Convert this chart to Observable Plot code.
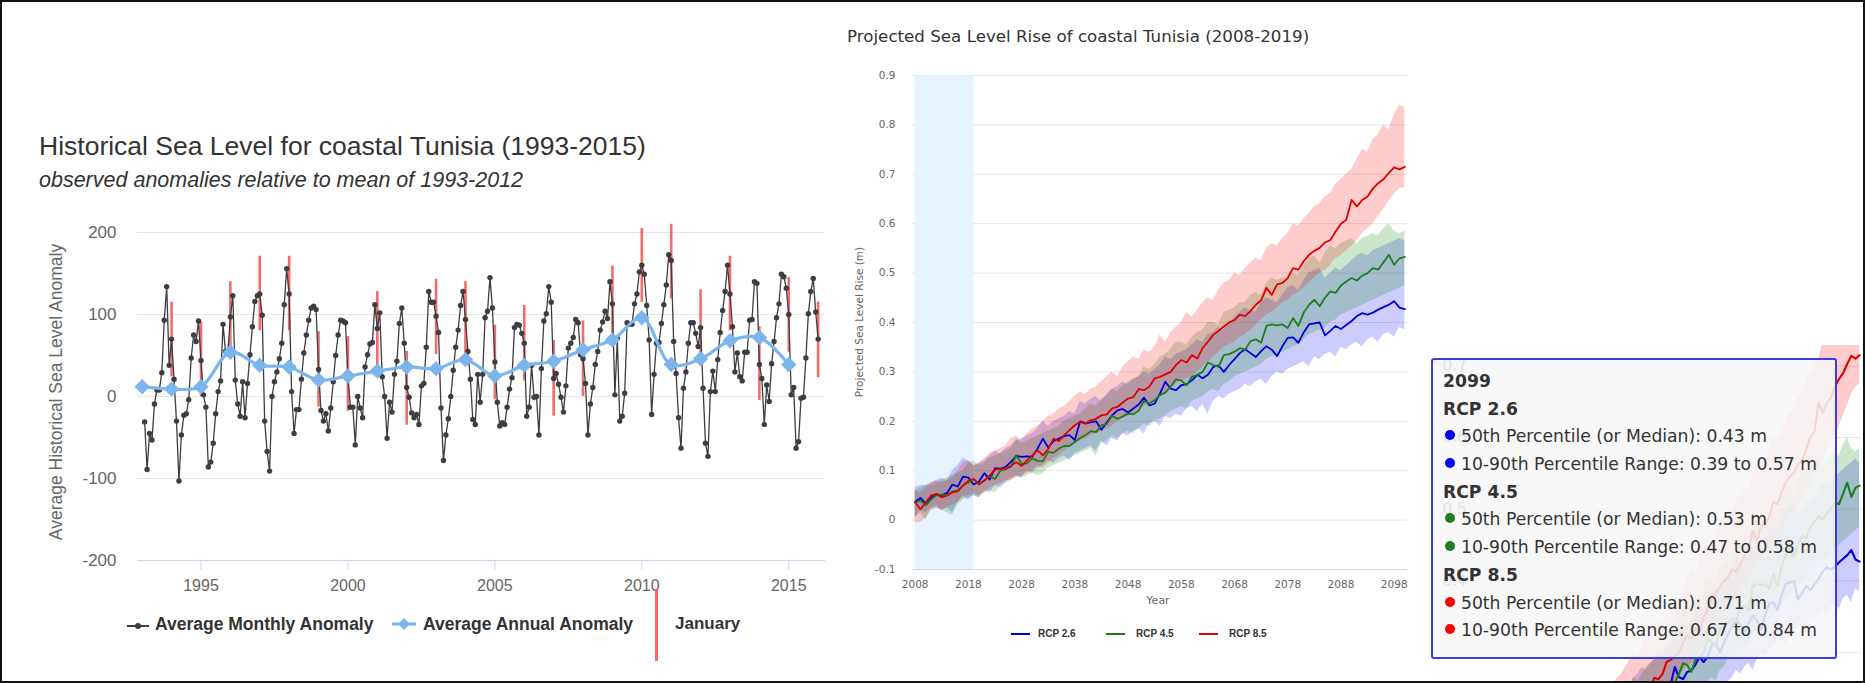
<!DOCTYPE html>
<html>
<head>
<meta charset="utf-8">
<script src="https://cdn.jsdelivr.net/npm/d3@7"></script>
<script src="https://cdn.jsdelivr.net/npm/@observablehq/plot@0.6"></script>
<style>
html,body{margin:0;padding:0;background:#fff;}
#root{position:relative;width:1865px;height:683px;overflow:hidden;background:#fff;font-family:"Liberation Sans",Arial,sans-serif;color:#333;}
.a{position:absolute;white-space:nowrap;}
.tl{height:27.7px;line-height:27.7px;white-space:nowrap;}
.dot{display:inline-block;width:10px;height:10px;border-radius:50%;margin:0 6px 0 2px;vertical-align:middle;position:relative;top:-2px;}
</style>
</head>
<body>
<div id="root"></div>
<script>
// ================= DATA: Historical sea level (left) =================
const leftTitle = "Historical Sea Level for coastal Tunisia (1993-2015)";
const leftSubtitle = "observed anomalies relative to mean of 1993-2012";
const leftYLabel = "Average Historical Sea Level Anomaly";
const leftYTicks = [-200, -100, 0, 100, 200];
const leftXTicks = [1995, 2000, 2005, 2010, 2015];
const monthlyStart = [1993, 2]; // first plotted month (year, month)
const monthlyAnomaly = [
  /*1993*/ -31,-89,-45,-53,-9,8,8,29,93,134,38,
  /*1994*/ 70,21,-30,-103,-47,-23,-21,-4,47,75,67,92,
  /*1995*/ 44,2,-13,-86,-80,-57,-21,6,19,88,55,55,
  /*1996*/ 97,123,20,-9,-24,18,-26,16,51,85,116,123,
  /*1997*/ 125,99,-30,-67,-91,0,18,30,46,65,112,156,
  /*1998*/ 125,6,-45,-16,-16,21,53,75,93,108,110,106,
  /*1999*/ 33,-17,-30,-21,-42,-14,18,50,75,93,92,90,
  /*2000*/ 24,-13,-13,-59,0,-14,-26,36,51,64,66,112,
  /*2001*/ 83,102,24,0,-51,-7,-19,27,43,89,108,65,
  /*2002*/ 11,-1,-20,-26,-22,-34,13,16,60,128,115,115,
  /*2003*/ 98,78,-14,-78,-47,-27,0,32,60,81,111,128,
  /*2004*/ 94,55,21,-28,-34,27,-7,27,96,104,145,108,
  /*2005*/ 42,-7,-36,-32,-34,-13,9,23,84,88,87,77,
  /*2006*/ 65,-24,-13,38,-1,0,-47,34,92,101,134,115,
  /*2007*/ 22,28,15,-1,-19,13,59,65,72,94,90,51,
  /*2008*/ 46,16,-47,-9,11,39,55,81,91,104,95,140,
  /*2009*/ 113,2,71,-30,-24,4,90,88,88,113,125,152,
  /*2010*/ 160,149,111,69,-22,27,65,66,89,112,136,173,
  /*2011*/ 166,67,28,-26,-63,10,30,65,90,90,77,61,
  /*2012*/ 84,10,-57,-73,6,31,6,45,78,105,128,160,
  /*2013*/ 125,85,30,53,24,19,54,54,93,94,140,138,
  /*2014*/ 39,22,-34,14,-6,40,67,96,113,149,146,132,
  /*2015*/ 100,2,11,-63,-55,-2,-1,47,101,128,144,103,
  /*2016*/ 70
];
const annualYears = [1993,1994,1995,1996,1997,1998,1999,2000,2001,2002,2003,2004,2005,2006,2007,2008,2009,2010,2011,2012,2013,2014,2015];
const annualAnomaly = [12,9,12,54,38,36,20,25,31,36,34,45,25,38,43,57,69,96,39,46,68,72,39];
const januaryYears = [1994,1995,1996,1997,1998,1999,2000,2001,2002,2003,2004,2005,2006,2007,2008,2009,2010,2011,2012,2013,2014,2015,2016];
const januaryLow  = [24,0,49,80,80,-13,-18,34,-35,51,49,-4,19,-24,0,71,115,119,39,80,-5,54,23];
const januaryHigh = [115,91,140,171,171,79,73,128,55,143,140,87,111,68,92,159,205,210,130,171,85,145,115];
const leftLegend = ["Average Monthly Anomaly", "Average Annual Anomaly", "January"];

// ================= DATA: Projected sea level rise (right), one value per year 2008..2100 =================
const rightTitle = "Projected Sea Level Rise of coastal Tunisia (2008-2019)";
const rightYLabel = "Projected Sea Level Rise (m)";
const rightXLabel = "Year";
const projStartYear = 2008;
const projYTicks = [-0.1,0,0.1,0.2,0.3,0.4,0.5,0.6,0.7,0.8,0.9];
const projXTicks = [2008,2018,2028,2038,2048,2058,2068,2078,2088,2098];
const thirdPanelYTicks = [0.4,0.5,0.6,0.7];
const bandYears = [2008, 2019];
const seriesNames = ["RCP 2.6", "RCP 4.5", "RCP 8.5"];
const rcp26Median = [
 0.037,0.045,0.033,0.045,0.052,0.05,0.055,0.072,0.068,0.088,
 0.086,0.072,0.078,0.095,0.082,0.105,0.104,0.108,0.118,0.13,
 0.128,0.129,0.128,0.145,0.165,0.147,0.16,0.165,0.17,0.172,
 0.162,0.2,0.196,0.198,0.2,0.183,0.198,0.212,0.222,0.225,
 0.218,0.226,0.234,0.248,0.232,0.236,0.256,0.28,0.266,0.263,
 0.273,0.275,0.283,0.294,0.287,0.294,0.31,0.313,0.3,0.314,
 0.326,0.338,0.346,0.338,0.33,0.342,0.352,0.345,0.332,0.352,
 0.369,0.37,0.359,0.38,0.396,0.398,0.4,0.374,0.383,0.393,
 0.387,0.395,0.403,0.413,0.419,0.416,0.42,0.426,0.431,0.436,
 0.443,0.43,0.427];
const rcp26Low = [
 0.005,0.02,0.015,0.025,0.03,0.02,0.025,0.015,0.035,0.05,
 0.04,0.05,0.045,0.06,0.055,0.07,0.065,0.075,0.085,0.09,
 0.085,0.1,0.095,0.105,0.11,0.12,0.115,0.125,0.13,0.12,
 0.135,0.14,0.145,0.15,0.14,0.16,0.15,0.165,0.16,0.175,
 0.17,0.18,0.185,0.175,0.195,0.2,0.19,0.21,0.205,0.215,
 0.21,0.225,0.23,0.22,0.235,0.215,0.24,0.25,0.245,0.255,
 0.26,0.265,0.275,0.27,0.28,0.285,0.275,0.29,0.3,0.295,
 0.305,0.31,0.315,0.32,0.31,0.33,0.325,0.335,0.34,0.33,
 0.35,0.345,0.355,0.36,0.35,0.365,0.37,0.36,0.375,0.38,
 0.37,0.39,0.385];
const rcp26High = [
 0.065,0.07,0.07,0.075,0.08,0.085,0.08,0.1,0.11,0.125,
 0.12,0.11,0.115,0.12,0.13,0.14,0.135,0.145,0.15,0.16,
 0.165,0.17,0.175,0.185,0.2,0.19,0.2,0.205,0.21,0.22,
 0.215,0.24,0.235,0.245,0.25,0.24,0.255,0.265,0.27,0.28,
 0.275,0.285,0.29,0.3,0.295,0.305,0.315,0.33,0.325,0.335,
 0.34,0.345,0.355,0.365,0.36,0.375,0.38,0.39,0.385,0.4,
 0.41,0.42,0.43,0.425,0.42,0.44,0.45,0.445,0.44,0.455,
 0.47,0.475,0.465,0.485,0.5,0.505,0.51,0.49,0.5,0.51,
 0.505,0.515,0.525,0.535,0.54,0.535,0.545,0.55,0.555,0.56,
 0.565,0.57,0.565];
const rcp45Median = [
 0.035,0.04,0.03,0.042,0.05,0.052,0.05,0.058,0.06,0.07,
 0.076,0.083,0.072,0.08,0.09,0.083,0.1,0.103,0.108,0.131,
 0.114,0.115,0.125,0.12,0.119,0.138,0.136,0.145,0.15,0.15,
 0.158,0.166,0.172,0.18,0.178,0.192,0.195,0.211,0.205,0.21,
 0.216,0.214,0.222,0.241,0.236,0.243,0.253,0.258,0.27,0.285,
 0.283,0.273,0.29,0.294,0.3,0.319,0.314,0.31,0.334,0.336,
 0.341,0.348,0.345,0.362,0.366,0.359,0.393,0.396,0.394,0.396,
 0.389,0.409,0.393,0.42,0.436,0.446,0.433,0.45,0.463,0.46,
 0.475,0.483,0.49,0.485,0.495,0.5,0.51,0.507,0.522,0.537,
 0.517,0.53,0.533];
const rcp45Low = [
 0.005,0.015,0.0,0.02,0.025,0.02,0.015,0.01,0.03,0.04,
 0.045,0.05,0.045,0.055,0.06,0.055,0.07,0.075,0.08,0.09,
 0.085,0.09,0.095,0.09,0.095,0.105,0.11,0.115,0.12,0.125,
 0.13,0.135,0.14,0.145,0.13,0.155,0.16,0.17,0.165,0.175,
 0.18,0.175,0.185,0.195,0.19,0.2,0.205,0.21,0.22,0.225,
 0.23,0.225,0.24,0.245,0.25,0.26,0.265,0.26,0.275,0.28,
 0.29,0.295,0.3,0.305,0.31,0.315,0.325,0.33,0.335,0.34,
 0.345,0.35,0.355,0.365,0.375,0.38,0.385,0.39,0.4,0.405,
 0.415,0.42,0.425,0.43,0.435,0.44,0.445,0.45,0.455,0.46,
 0.465,0.47,0.475];
const rcp45High = [
 0.06,0.065,0.07,0.07,0.075,0.08,0.085,0.09,0.095,0.1,
 0.115,0.12,0.11,0.115,0.125,0.13,0.135,0.14,0.145,0.165,
 0.155,0.16,0.165,0.17,0.175,0.18,0.185,0.19,0.2,0.205,
 0.21,0.215,0.225,0.235,0.23,0.245,0.25,0.265,0.26,0.27,
 0.28,0.285,0.29,0.31,0.305,0.315,0.33,0.335,0.345,0.36,
 0.36,0.355,0.37,0.38,0.385,0.4,0.4,0.395,0.42,0.425,
 0.43,0.44,0.44,0.455,0.46,0.455,0.48,0.49,0.485,0.49,
 0.485,0.5,0.495,0.515,0.53,0.535,0.52,0.54,0.555,0.55,
 0.56,0.565,0.57,0.56,0.57,0.575,0.58,0.575,0.59,0.6,
 0.585,0.58,0.585];
const rcp85Median = [
 0.036,0.022,0.036,0.05,0.053,0.046,0.05,0.056,0.058,0.07,
 0.08,0.083,0.073,0.08,0.09,0.102,0.104,0.104,0.11,0.117,
 0.11,0.121,0.131,0.141,0.131,0.144,0.165,0.16,0.172,0.182,
 0.192,0.199,0.195,0.202,0.205,0.212,0.214,0.226,0.229,0.238,
 0.246,0.249,0.265,0.263,0.27,0.287,0.29,0.295,0.3,0.314,
 0.324,0.319,0.334,0.327,0.348,0.361,0.375,0.383,0.392,0.4,
 0.405,0.416,0.413,0.423,0.436,0.445,0.47,0.456,0.477,0.48,
 0.49,0.51,0.507,0.524,0.537,0.545,0.551,0.562,0.567,0.584,
 0.6,0.608,0.648,0.635,0.648,0.655,0.671,0.682,0.69,0.703,
 0.714,0.71,0.715];
const rcp85Low = [
 -0.005,-0.005,0.005,0.02,0.025,0.02,0.025,0.03,0.035,0.045,
 0.05,0.055,0.05,0.055,0.065,0.07,0.075,0.08,0.08,0.085,
 0.09,0.095,0.1,0.11,0.105,0.115,0.125,0.13,0.14,0.15,
 0.155,0.16,0.165,0.17,0.175,0.18,0.185,0.19,0.2,0.205,
 0.21,0.215,0.225,0.23,0.235,0.245,0.25,0.26,0.265,0.275,
 0.28,0.285,0.29,0.3,0.31,0.32,0.33,0.34,0.35,0.355,
 0.36,0.37,0.375,0.385,0.395,0.405,0.415,0.42,0.43,0.44,
 0.445,0.455,0.46,0.47,0.48,0.49,0.5,0.505,0.515,0.53,
 0.535,0.545,0.555,0.565,0.58,0.59,0.6,0.615,0.63,0.645,
 0.66,0.67,0.675];
const rcp85High = [
 0.06,0.055,0.065,0.075,0.08,0.075,0.08,0.085,0.1,0.115,
 0.12,0.11,0.115,0.125,0.135,0.14,0.145,0.15,0.165,0.17,
 0.16,0.175,0.185,0.19,0.2,0.21,0.215,0.225,0.23,0.24,
 0.25,0.26,0.255,0.265,0.27,0.28,0.29,0.3,0.29,0.31,
 0.32,0.33,0.325,0.345,0.34,0.35,0.375,0.36,0.38,0.39,
 0.4,0.42,0.41,0.425,0.44,0.45,0.445,0.465,0.48,0.485,
 0.5,0.495,0.51,0.52,0.53,0.525,0.55,0.56,0.555,0.57,
 0.58,0.6,0.595,0.61,0.62,0.635,0.64,0.655,0.66,0.68,
 0.69,0.7,0.71,0.73,0.75,0.745,0.77,0.78,0.8,0.79,
 0.82,0.84,0.835];
const tooltipYear = 2099;

// ================= STYLES =================
const FONT_L = '"Liberation Sans", Arial, sans-serif';
const FONT_R = '"DejaVu Sans", Verdana, sans-serif';
const COL = {
  grid: "#e6e6e6", axis: "#ccd6eb", tick: "#666666",
  monthly: "#3d3d42", annual: "#7cb5ec", january: "#f25c5c",
  band: "#e6f3fc",
  fill: ["#0000ff", "#008000", "#ff0000"],
  line: ["#0000dd", "#1e7e1e", "#e00000"],
  bullet: ["#0000ff", "#1e7e1e", "#ff0000"]
};

const root = document.getElementById("root");
function el(css, text, parent) {
  const e = document.createElement("div");
  e.className = "a";
  Object.assign(e.style, css);
  if (text != null) e.textContent = text;
  (parent || root).appendChild(e);
  return e;
}
function place(svg, left, top) {
  svg.style.position = "absolute";
  svg.style.left = left + "px";
  svg.style.top = top + "px";
  root.appendChild(svg);
  return svg;
}

// ================= LEFT CHART =================
const monthly = monthlyAnomaly.map((v, i) => ({t: monthlyStart[0] + (monthlyStart[1] - 1 + i) / 12, v}));
const annual = annualYears.map((y, i) => ({t: y, v: annualAnomaly[i]}));
const jan = januaryYears.map((y, i) => ({t: y, lo: januaryLow[i], hi: januaryHigh[i]}));

const leftPlot = Plot.plot({
  width: 840, height: 410,
  marginLeft: 137, marginRight: 15, marginTop: 32, marginBottom: 50,
  style: {fontFamily: FONT_L, fontSize: "16px", color: COL.tick, background: "transparent", overflow: "visible"},
  x: {domain: [1992.84, 2016.25], label: null},
  y: {domain: [-200, 200], label: null},
  marks: [
    Plot.gridY(leftYTicks, {stroke: COL.grid, strokeOpacity: 1}),
    Plot.ruleY([-200], {stroke: COL.axis, strokeWidth: 1}),
    Plot.axisY(leftYTicks, {tickSize: 0, tickPadding: 21, label: null, fontSize: 17, tickFormat: d => String(d)}),
    Plot.axisX(leftXTicks, {tickSize: 10, tickPadding: 9, stroke: COL.axis, label: null, fontSize: 16, tickFormat: d => String(d)}),
    Plot.ruleX(jan, {x: "t", y1: "lo", y2: "hi", stroke: COL.january, strokeWidth: 2.6, strokeOpacity: 0.9}),
    Plot.line(monthly, {x: "t", y: "v", stroke: COL.monthly, strokeWidth: 1.3}),
    Plot.dot(monthly, {x: "t", y: "v", r: 2.7, fill: COL.monthly}),
    Plot.line(annual, {x: "t", y: "v", stroke: COL.annual, strokeWidth: 3.2, curve: "catmull-rom"}),
    Plot.dot(annual, {x: "t", y: "v", symbol: "diamond2", r: 6, fill: COL.annual, stroke: COL.annual})
  ]
});
place(leftPlot, 0, 200);

el({left: "39px", top: "130px", fontSize: "26.5px", lineHeight: "32px", color: "#333"}, leftTitle);
el({left: "39px", top: "167px", fontSize: "21.5px", lineHeight: "26px", fontStyle: "italic", color: "#333"}, leftSubtitle);
el({left: "56px", top: "392px", fontSize: "17.5px", lineHeight: "20px", color: COL.tick,
    transform: "translate(-50%,-50%) rotate(-90deg)"}, leftYLabel);

// left legend
(function() {
  const y = 624;
  const s1 = el({left: "127px", top: (y - 6) + "px", width: "24px", height: "12px"}, null);
  s1.innerHTML = `<svg width="24" height="12"><line x1="0" y1="6" x2="22" y2="6" stroke="${COL.monthly}" stroke-width="2"/><circle cx="11" cy="6" r="3" fill="${COL.monthly}"/></svg>`;
  el({left: "155px", top: (y - 11) + "px", fontSize: "17.5px", lineHeight: "22px", fontWeight: "bold", color: "#333"}, leftLegend[0]);
  const s2 = el({left: "392px", top: (y - 7) + "px", width: "26px", height: "14px"}, null);
  s2.innerHTML = `<svg width="26" height="14"><line x1="0" y1="7" x2="24" y2="7" stroke="${COL.annual}" stroke-width="3"/><path d="M12,1 L18,7 L12,13 L6,7 Z" fill="${COL.annual}"/></svg>`;
  el({left: "423px", top: (y - 11) + "px", fontSize: "17.5px", lineHeight: "22px", fontWeight: "bold", color: "#333"}, leftLegend[1]);
  el({left: "655px", top: "589px", width: "2.6px", height: "72px", background: COL.january, opacity: 0.9}, null);
  el({left: "675px", top: (y - 11) + "px", fontSize: "17px", lineHeight: "22px", fontWeight: "bold", color: "#333"}, leftLegend[2]);
})();

// ================= RIGHT CHART =================
const medians = [rcp26Median, rcp45Median, rcp85Median];
const lows = [rcp26Low, rcp45Low, rcp85Low];
const highs = [rcp26High, rcp45High, rcp85High];
const series = seriesNames.map((name, k) => ({
  name, k,
  data: medians[k].map((m, i) => ({year: projStartYear + i, med: m, lo: lows[k][i], hi: highs[k][i]}))
}));
const projDomain = [projStartYear - 0.5, projStartYear + rcp26Median.length - 0.5];

function projectionPlot(o) {
  const marks = [Plot.gridY(projYTicks, {stroke: COL.grid, strokeOpacity: 1})];
  if (o.band) marks.push(Plot.rect([{x1: bandYears[0], x2: bandYears[1]}], {x1: "x1", x2: "x2", y1: -0.1, y2: 0.9, fill: COL.band}));
  if (o.axisLine) marks.push(Plot.ruleY([-0.1], {stroke: COL.axis}));
  for (const s of series) marks.push(Plot.areaY(s.data, {x: "year", y1: "lo", y2: "hi", fill: COL.fill[s.k], fillOpacity: 0.2}));
  for (const s of series) marks.push(Plot.line(s.data, {x: "year", y: "med", stroke: COL.line[s.k], strokeWidth: o.lw}));
  marks.push(Plot.axisY(o.yTicks, {tickSize: 0, tickPadding: o.yPad, label: null, fontSize: o.fs, tickFormat: d => d === 0 ? "0" : d.toFixed(1)}));
  if (o.xAxis) marks.push(Plot.axisX(projXTicks, {tickSize: 0, tickPadding: 11, label: null, fontSize: o.fs, tickFormat: d => String(d)}));
  return Plot.plot({
    width: o.width, height: o.height,
    marginLeft: o.mL, marginRight: o.mR, marginTop: o.mT, marginBottom: o.mB,
    style: {fontFamily: FONT_R, fontSize: o.fs + "px", color: COL.tick, background: "transparent", overflow: "visible"},
    x: {domain: projDomain, label: null},
    y: {domain: [-0.1, 0.9], label: null},
    marks
  });
}

const rightPlot = projectionPlot({width: 580, height: 560, mL: 72, mR: 13, mT: 25, mB: 41, band: true, axisLine: true, xAxis: true,
  yTicks: projYTicks, yPad: 17, fs: 10.5, lw: 1.8});
place(rightPlot, 840, 50);

el({left: "847px", top: "26px", fontSize: "16.7px", lineHeight: "20px", color: "#333", fontFamily: FONT_R}, rightTitle);
el({left: "859px", top: "322px", fontSize: "10.5px", lineHeight: "13px", color: COL.tick, fontFamily: FONT_R,
    transform: "translate(-50%,-50%) rotate(-90deg)"}, rightYLabel);
el({left: "1158px", top: "601px", fontSize: "11px", lineHeight: "14px", color: COL.tick, fontFamily: FONT_R, transform: "translate(-50%,-50%)"}, rightXLabel);

// right legend
(function() {
  const y = 634;
  const xs = [[1011, 1038], [1106, 1136], [1199, 1229]];
  series.forEach((s, k) => {
    el({left: xs[k][0] + "px", top: (y - 1) + "px", width: "19px", height: "2px", background: COL.line[k]}, null);
    el({left: xs[k][1] + "px", top: (y - 7) + "px", fontSize: "10px", lineHeight: "14px", fontWeight: "bold", color: "#333"}, s.name);
  });
})();

// ================= THIRD (partially visible) PANEL behind tooltip =================
const clip = el({left: "1431px", top: "345px", width: "434px", height: "338px", overflow: "hidden"}, null);
const thirdPlot = projectionPlot({width: 454, height: 750, mL: 50.5, mR: 4, mT: 0, mB: 0, band: false, axisLine: false, xAxis: false,
  yTicks: thirdPanelYTicks, yPad: 13.5, fs: 16, lw: 2.2});
thirdPlot.style.position = "absolute";
thirdPlot.style.left = "0px";
thirdPlot.style.top = "-123px";
clip.appendChild(thirdPlot);

// ================= TOOLTIP =================
(function() {
  const idx = tooltipYear - projStartYear;
  const tip = el({left: "1431px", top: "358px", width: "406px", height: "301px", boxSizing: "border-box",
    border: "2px solid #3b3be6", borderRadius: "3px", background: "rgba(247,247,247,0.86)",
    padding: "8px 0 0 10px", fontSize: "17.2px", color: "#333", fontFamily: FONT_R}, null);
  let html = `<div class="tl" style="font-weight:bold">${tooltipYear}</div>`;
  series.forEach((s, k) => {
    const c = COL.bullet[k];
    html += `<div class="tl" style="font-weight:bold">${s.name}</div>`;
    html += `<div class="tl"><span class="dot" style="background:${c}"></span>50th Percentile (or Median): ${medians[k][idx].toFixed(2)} m</div>`;
    html += `<div class="tl"><span class="dot" style="background:${c}"></span>10-90th Percentile Range: ${lows[k][idx].toFixed(2)} to ${highs[k][idx].toFixed(2)} m</div>`;
  });
  tip.innerHTML = html;
})();

// ================= FRAME =================
el({left: "0px", top: "0px", width: "1865px", height: "683px", boxSizing: "border-box", border: "2px solid #111", pointerEvents: "none"}, null);
</script>
</body>
</html>
